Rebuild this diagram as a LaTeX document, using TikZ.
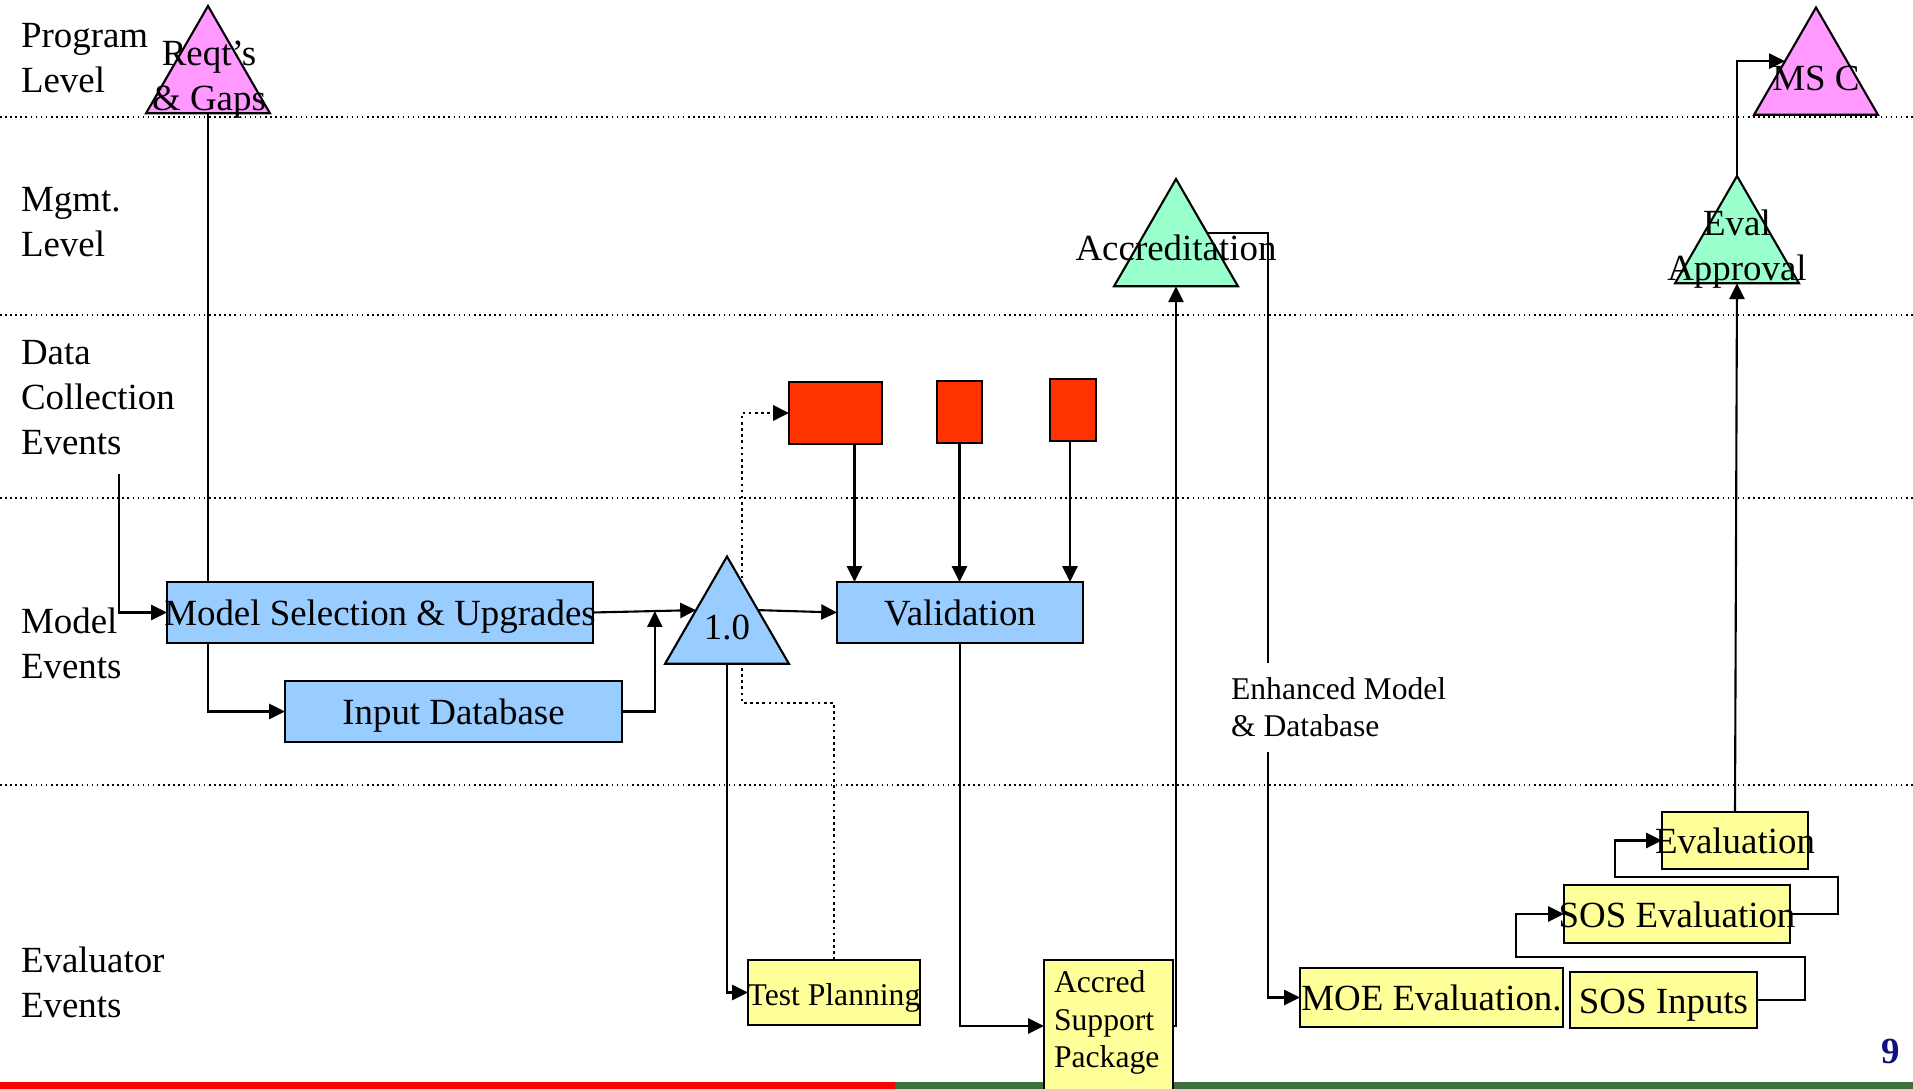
\documentclass[tikz,border=0pt]{standalone}
\usepackage{fontspec}
\setmainfont{Liberation Serif}
\usetikzlibrary{shapes.geometric,arrows.meta,calc}
\definecolor{pinkfill}{RGB}{255,153,255}
\definecolor{greenfill}{RGB}{153,255,204}
\definecolor{bluefill}{RGB}{153,204,255}
\definecolor{redfill}{RGB}{255,51,0}
\definecolor{yellowfill}{RGB}{255,255,153}
\definecolor{barred}{RGB}{255,0,0}
\definecolor{bargreen}{RGB}{61,110,61}
\definecolor{pagenum}{RGB}{16,16,128}
\tikzset{
	evbox/.style={draw, line width=0.6pt, inner sep=0pt, outer sep=0pt, text height=0.33cm, text depth=0.06cm},
	tri/.style={draw, regular polygon, regular polygon sides=3, minimum size=1.43cm, inner sep=0pt, outer sep=0pt, line width=0.6pt},
	lvlsep/.style={densely dotted, line width=0.45pt},
	lvllabel/.style={anchor=west, align=left, inner sep=0pt},
	smalltxt/.style={font=\fontsize{9}{10.6}\selectfont}
}

\begin{document}
\begin{tikzpicture}[>={Triangle[length=4.5pt,width=4.3pt]}, line width=0.6pt, font=\fontsize{10.5}{12.8}\selectfont]
	\useasboundingbox (0,0) rectangle (19.13,-10.89);
	\clip (0,0) rectangle (19.13,-10.89);
	
	%level separators
	\foreach \y in {1.17,3.15,4.98,7.85}
		\draw[lvlsep] (0,-\y)--(19.13,-\y);
	
	%level labels
	\node[lvllabel] (lprog) at (0.2,-0.58)  {Program\\Level};
	\node[lvllabel] (lmgmt) at (0.2,-2.225) {Mgmt.\\Level};
	\node[lvllabel] (ldata) at (0.2,-3.98)  {Data\\Collection\\Events};
	\node[lvllabel] (lmodel) at (0.2,-6.43) {Model\\Events};
	\node[lvllabel] (leval) at (0.2,-9.82)  {Evaluator\\Events};
	
	%bottom bar
	\fill[barred] (0,-10.82) rectangle (8.95,-10.89);
	\fill[bargreen] (8.95,-10.82) rectangle (19.13,-10.89);
	\node[font=\fontsize{10.5}{12.8}\selectfont\bfseries, text=pagenum, inner sep=0pt] (pageno) at (18.91,-10.515) {9};
	
	%model events
	\node[evbox, fill=bluefill, minimum width=4.26cm, minimum height=0.61cm] (msu) at (3.80,-6.125) {\makebox[0pt]{Model Selection \& Upgrades}};
	\node[evbox, fill=bluefill, minimum width=3.37cm, minimum height=0.61cm] (indb) at (4.535,-7.115) {Input Database};
	\node[evbox, fill=bluefill, minimum width=2.46cm, minimum height=0.61cm] (valid) at (9.60,-6.125) {Validation};
	
	%data collection events
	\node[evbox, fill=redfill, minimum width=0.93cm, minimum height=0.62cm] (red1) at (8.355,-4.13) {};
	\node[evbox, fill=redfill, minimum width=0.45cm, minimum height=0.62cm] (red2) at (9.595,-4.12) {};
	\node[evbox, fill=redfill, minimum width=0.46cm, minimum height=0.62cm] (red3) at (10.73,-4.10) {};
	
	%evaluator events
	\node[evbox, fill=yellowfill, smalltxt, minimum width=1.72cm, minimum height=0.65cm] (testp) at (8.34,-9.925) {\makebox[0pt]{Test Planning}};
	\node[evbox, fill=yellowfill, minimum width=1.29cm, minimum height=1.32cm] (asp) at (11.085,-10.26) {};
	\node[smalltxt, anchor=north west, align=left, inner sep=0pt] (asptxt) at (10.53,-9.70) {Accred\\Support\\Package};
	\node[evbox, fill=yellowfill, minimum width=2.63cm, minimum height=0.59cm] (moe) at (14.315,-9.975) {\makebox[0pt]{MOE Evaluation.}};
	\node[evbox, fill=yellowfill, minimum width=1.87cm, minimum height=0.56cm] (sosin) at (16.635,-10.0) {SOS Inputs};
	\node[evbox, fill=yellowfill, minimum width=2.26cm, minimum height=0.58cm] (soseval) at (16.77,-9.14) {\makebox[0pt]{SOS Evaluation}};
	\node[evbox, fill=yellowfill, minimum width=1.46cm, minimum height=0.57cm] (evaluation) at (17.35,-8.405) {\makebox[0pt]{Evaluation}};
	
	%dotted feedback (behind the 1.0 triangle)
	\draw[densely dotted,line width=0.75pt,->] (testp.north) -- ++(0,2.57) -| ([xshift=-0.47cm]red1.west) -- (red1.west);
	
	%milestones
	\node[tri, fill=pinkfill] (reqts) at (2.08,-0.775) {};
	\node[inner sep=0pt, align=center] (reqtstxt) at (2.09,-0.80) {Reqt’s\\\& Gaps};
	\node[tri, fill=pinkfill] (msc) at (18.16,-0.79) {};
	\node[inner sep=0pt] (msctxt) at (18.16,-0.78) {MS C};
	\node[tri, fill=greenfill] (accred) at (11.76,-2.505) {};
	\node[inner sep=0pt] (accredtxt) at (11.76,-2.475) {Accreditation};
	\node[tri, fill=greenfill] (evalapp) at (17.37,-2.475) {};
	\node[inner sep=0pt, align=center] (evalapptxt) at (17.37,-2.49) {Eval\\Approval};
	\node[tri, fill=bluefill] (one) at (7.27,-6.28) {};
	\node[inner sep=0pt] (onetxt) at (7.27,-6.27) {1.0};
	
	%model flow
	\coordinate (dce) at (1.19,-4.74);
	\draw[->] (dce) |- (msu.west);
	\draw (reqts.side 2) -- (reqts.side 2 |- msu.north);
	\draw[->] (reqts.side 2 |- msu.south) |- (indb.west);
	\draw[->] (msu.east) -- (one.side 1);
	\coordinate (join) at ($(msu.east)!0.6!(one.side 1)$);
	\draw[->] (indb.east) -| (join);
	\draw[->] (one.side 3) -- (valid.west);
	\draw[->] ([xshift=0.19cm]red1.south) -- ([xshift=0.19cm]red1.south |- valid.north);
	\draw[->] (red2.south) -- (red2.south |- valid.north);
	\draw[->] ([xshift=-0.03cm]red3.south) -- ([xshift=-0.03cm]red3.south |- valid.north);
	
	%evaluator flow
	\draw[->] (one.side 2) |- (testp.west);
	\draw[->] (valid.south) |- (asp.west);
	\draw[->] (asp.east) -| (accred.side 2);
	\draw[->] (accred.side 3) -- ++(0.61,0) |- (moe.west);
	\node[smalltxt, lvllabel, fill=white, inner ysep=0.15cm] (enh) at (12.30,-7.075) {Enhanced Model\\\& Database};
	\draw[->] (sosin.east) -- ++(0.48,0) -- ++(0,0.43) -| ([xshift=-0.48cm]soseval.west) -- (soseval.west);
	\draw[->] (soseval.east) -- ++(0.48,0) -- ++(0,0.37) -| ([xshift=-0.47cm]evaluation.west) -- (evaluation.west);
	\draw[->] (evaluation.north) -- (evalapp.side 2);
	\draw[->] (evalapp.corner 1) |- (msc.side 1);
	
\end{tikzpicture}
\end{document}
